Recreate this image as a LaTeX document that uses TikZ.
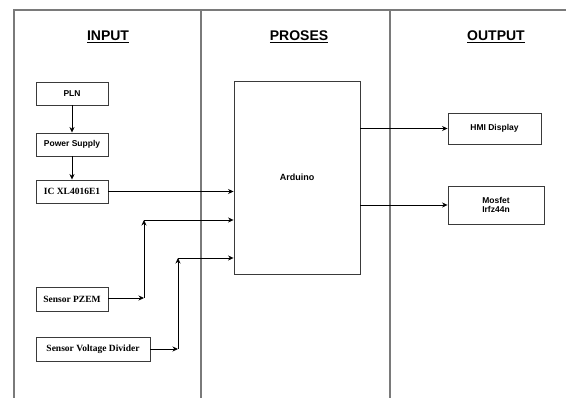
\documentclass[tikz,border=0pt]{standalone}
\usepackage{fontspec}
\setmainfont{Liberation Sans}
\newfontfamily\serifbox{Liberation Serif}
\usepackage{xcolor}
\usetikzlibrary{arrows.meta}
\definecolor{frameline}{HTML}{7A7A7A}
\definecolor{boxline}{HTML}{3A3A3A}

\begin{document}
\begin{tikzpicture}[x=1pt,y=-1pt,
  blok/.style={draw=boxline,line width=0.9pt,inner sep=1pt,align=center,
    font=\fontsize{8.5}{9.5}\selectfont\bfseries},
  serifblok/.style={blok,font=\serifbox\fontsize{9.5}{11}\selectfont\bfseries},
  arr/.style={draw=black,line width=0.7pt,-{Stealth[length=5.5pt,width=5pt]}},
  judul/.style={font=\fontsize{14}{16}\selectfont\bfseries}]
  \useasboundingbox (0,0) rectangle (566,398);
  % frame and columns
  \draw[frameline,line width=1.3pt] (14,398) -- (14,10) -- (566,10);
  \foreach \cx in {201,390}{
    \draw[frameline,line width=1.3pt] (\cx,10) -- (\cx,398);
  }
  \foreach \nm/\hx/\lab in {hin/108/INPUT, hpr/299/PROSES, hout/496/OUTPUT}{
    \node[judul] (\nm) at (\hx,37) {\underline{\lab}};
  }
  % input side
  \node[blok,minimum width=72pt,minimum height=23pt] (pln) at (72,93.5) {PLN};
  \node[blok,minimum width=72pt,minimum height=23pt] (ps) at (72,144.5) {Power Supply};
  \node[serifblok,minimum width=72pt,minimum height=23pt] (ic) at (72,191.5) {IC XL4016E1};
  \node[serifblok,minimum width=72pt,minimum height=24pt] (pzem) at (72,299) {Sensor PZEM};
  \node[serifblok,minimum width=114pt,minimum height=24pt] (vd) at (93,349) {Sensor Voltage Divider};
  % process
  \node[blok,minimum width=126pt,minimum height=193pt,font=\fontsize{9}{10}\selectfont\bfseries] (ard) at (297,177.5) {Arduino};
  % output side
  \node[blok,minimum width=93pt,minimum height=31pt] (hmi) at (494.5,128.5) {HMI Display};
  \node[blok,minimum width=96pt,minimum height=38pt] (mos) at (496,205) {Mosfet\\Irfz44n};
  % bends
  \coordinate (pz1) at (144,298);
  \coordinate (pz2) at (144,220);
  \coordinate (vd1) at (178,349);
  \coordinate (vd2) at (178,258);
  \draw[arr] (pln) -- (ps);
  \draw[arr] (ps) -- (ic);
  \draw[arr] (ic.east) -- (ic.east -| ard.west);
  \draw[arr] (pzem.east |- pz1) -- (pz1);
  \draw[arr] (pz1) -- (pz2);
  \draw[arr] (pz2) -- (pz2 -| ard.west);
  \draw[arr] (vd.east) -- (vd1);
  \draw[arr] (vd1) -- (vd2);
  \draw[arr] (vd2) -- (vd2 -| ard.west);
  \draw[arr] (ard.east |- hmi.west) -- (hmi.west);
  \draw[arr] (ard.east |- mos.west) -- (mos.west);
\end{tikzpicture}
\end{document}
